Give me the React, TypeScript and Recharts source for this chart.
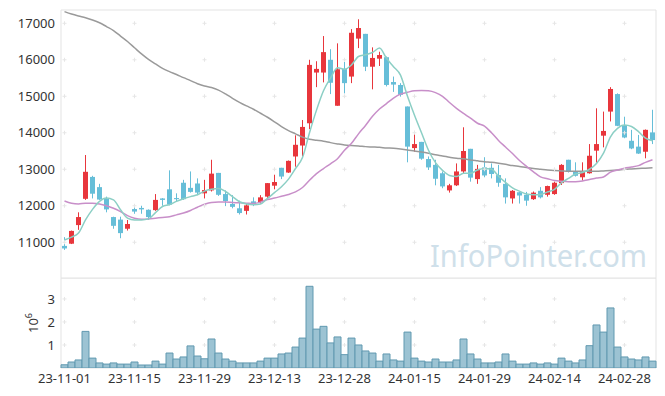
import React from 'react';
import {
  ComposedChart,
  Bar,
  Line,
  XAxis,
  YAxis,
  CartesianGrid,
  ReferenceDot,
  Label,
} from 'recharts';

const dates = [
  '23-11-01', '23-11-02', '23-11-03', '23-11-06', '23-11-07', '23-11-08', '23-11-09', '23-11-10', '23-11-13', '23-11-14',
  '23-11-15', '23-11-16', '23-11-17', '23-11-20', '23-11-21', '23-11-22', '23-11-23', '23-11-24', '23-11-27', '23-11-28',
  '23-11-29', '23-11-30', '23-12-01', '23-12-04', '23-12-05', '23-12-06', '23-12-07', '23-12-08', '23-12-11', '23-12-12',
  '23-12-13', '23-12-14', '23-12-15', '23-12-18', '23-12-19', '23-12-20', '23-12-21', '23-12-22', '23-12-26', '23-12-27',
  '23-12-28', '24-01-02', '24-01-03', '24-01-04', '24-01-05', '24-01-08', '24-01-09', '24-01-10', '24-01-11', '24-01-12',
  '24-01-15', '24-01-16', '24-01-17', '24-01-18', '24-01-19', '24-01-22', '24-01-23', '24-01-24', '24-01-25', '24-01-26',
  '24-01-29', '24-01-30', '24-01-31', '24-02-01', '24-02-02', '24-02-05', '24-02-06', '24-02-07', '24-02-08', '24-02-13',
  '24-02-14', '24-02-15', '24-02-16', '24-02-19', '24-02-20', '24-02-21', '24-02-22', '24-02-23', '24-02-26', '24-02-27',
  '24-02-28', '24-02-29', '24-03-04', '24-03-05', '24-03-06',
];

const opens = [
  10900, 10960, 11470, 12190, 12790, 12510, 12190, 11690, 11620, 11370,
  11910, 11940, 11890, 11880, 12200, 12450, 12210, 12630, 12490, 12610,
  12340, 12420, 12900, 12320, 12050, 11930, 11860, 12120, 12100, 12250,
  12550, 13040, 12910, 13350, 13650, 14260, 15650, 15650, 16000, 14740,
  15750, 15540, 16580, 16710, 15810, 16030, 16070, 15390, 15310, 14720,
  13580, 13750, 13280, 13120, 12890, 12420, 12560, 12940, 13560, 12730,
  13050, 13040, 12840, 12600, 12200, 12370, 12300, 12180, 12410, 12300,
  12320, 12620, 13260, 12940, 12780, 12890, 13510, 13920, 14580, 15060,
  14210, 13780, 13620, 13480, 14010,
];
const highs = [
  11140, 11320, 11820, 13390, 12820, 12600, 12250, 11700, 11700, 11610,
  12040, 12000, 11900, 12320, 12210, 12970, 12340, 12710, 12940, 12750,
  12710, 13260, 12900, 12420, 12290, 12140, 12060, 12230, 12290, 12620,
  12850, 13040, 13240, 13930, 14350, 16000, 15960, 16650, 16290, 16450,
  15940, 16840, 17110, 16710, 16340, 16220, 16090, 15540, 15360, 14720,
  14050, 13750, 13350, 13260, 12940, 12600, 13160, 14150, 13560, 13120,
  13330, 13160, 13120, 12750, 12430, 12380, 12380, 12390, 12510, 12550,
  12660, 13140, 13260, 13190, 13190, 13690, 14670, 14580, 15250, 15080,
  14440, 14080, 13940, 14090, 14630,
];
const lows = [
  10790, 10950, 11340, 12160, 12200, 12160, 11820, 11370, 11110, 11320,
  11780, 11780, 11610, 11860, 12000, 12010, 12120, 12160, 12360, 12290,
  12200, 12390, 12270, 11990, 11930, 11760, 11760, 11990, 12060, 12180,
  12450, 12730, 12900, 13070, 13350, 14100, 15250, 15380, 15060, 14740,
  15080, 15360, 16320, 15690, 15190, 15830, 15270, 15120, 14990, 13190,
  13480, 13260, 12980, 12560, 12480, 12360, 12540, 12890, 12660, 12600,
  12780, 12750, 12520, 12060, 12060, 12060, 12000, 12160, 12200, 12250,
  12300, 12570, 12910, 12800, 12690, 12880, 13180, 13600, 14310, 14180,
  13850, 13550, 13420, 13300, 13690,
];
const closes = [
  10830, 11310, 11690, 12930, 12330, 12170, 11900, 11450, 11250, 11500,
  11840, 11900, 11690, 12160, 12160, 12030, 12180, 12180, 12380, 12360,
  12430, 12880, 12300, 12130, 11970, 11800, 12010, 12030, 12230, 12620,
  12650, 12800, 13230, 13670, 14160, 15860, 15750, 16210, 15370, 15740,
  15360, 16740, 16870, 15810, 16050, 16130, 15310, 15320, 15040, 13620,
  13690, 13290, 13050, 12740, 12530, 12560, 12940, 13500, 12770, 13010,
  12830, 12870, 12630, 12230, 12410, 12280, 12140, 12360, 12230, 12540,
  12630, 13120, 12940, 12820, 12940, 13370, 13690, 14050, 15200, 14190,
  13870, 13570, 13430, 14080, 13800,
];

const ma5 = [
  11060, 11140, 11250, 11610, 11900, 12120, 12210, 12160, 11890, 11660,
  11610, 11610, 11640, 11810, 11980, 12030, 12120, 12190, 12250, 12300,
  12400, 12450, 12470, 12390, 12250, 12110, 12050, 12030, 12050, 12200,
  12360, 12520, 12730, 13020, 13320, 14000, 14620, 15150, 15500, 15780,
  15740, 15860, 16090, 16140, 16200, 16320, 16040, 15810, 15580, 15000,
  14480, 14000, 13520, 13180, 12970, 12830, 12800, 12890, 12890, 12980,
  13020, 13000, 12810, 12640, 12490, 12400, 12320, 12300, 12310, 12380,
  12450, 12630, 12750, 12870, 12910, 13000, 13160, 13440, 13890, 14120,
  14210, 14170, 14030, 13850, 13780,
];
const ma20 = [
  12130, 12070, 12050, 12070, 12070, 12050, 12000, 11930, 11840, 11730,
  11660, 11630, 11640, 11660, 11680, 11700, 11750, 11800, 11870, 11960,
  12040, 12090, 12100, 12100, 12090, 12080, 12070, 12060, 12100, 12170,
  12210, 12260, 12310, 12380, 12500, 12700, 12880, 13020, 13150, 13290,
  13520, 13710, 13970, 14200, 14450, 14650, 14800, 14950, 15060, 15110,
  15150, 15160, 15150, 15100, 15000, 14830, 14670, 14530, 14400, 14260,
  14180, 14000, 13790, 13610, 13430, 13240, 13080, 12930, 12790, 12740,
  12690, 12670, 12660, 12660, 12680, 12720, 12760, 12790, 12920, 12980,
  13030, 13060, 13100, 13190, 13260,
];
const ma120 = [
  17320, 17255, 17200, 17150, 17090, 17015, 16910, 16800, 16650, 16500,
  16330, 16160, 16010, 15885, 15765, 15675, 15595, 15510, 15430, 15345,
  15280, 15240, 15170, 15065, 14945, 14835, 14735, 14645, 14535, 14425,
  14300, 14170, 14060, 13970, 13880, 13820, 13795, 13770, 13730, 13695,
  13665, 13650, 13640, 13620, 13610, 13600, 13585, 13575, 13555, 13530,
  13500, 13475, 13440, 13395, 13365, 13330, 13300, 13285, 13255, 13230,
  13205, 13190, 13165, 13135, 13100, 13075, 13045, 13020, 13000, 12980,
  12965, 12955, 12945, 12945, 12945, 12945, 12945, 12955, 12965, 12980,
  13000, 13010, 13020, 13030, 13040,
];

const volumes = [
  140000, 260000, 350000, 1590000, 430000, 220000, 170000, 220000, 170000, 170000,
  260000, 130000, 130000, 300000, 170000, 650000, 390000, 480000, 960000, 520000,
  400000, 1260000, 650000, 390000, 300000, 220000, 220000, 220000, 300000, 430000,
  430000, 610000, 650000, 910000, 1300000, 3550000, 1690000, 1810000, 1090000, 1350000,
  580000, 1300000, 1000000, 740000, 650000, 300000, 610000, 350000, 300000, 1560000,
  430000, 300000, 260000, 390000, 260000, 260000, 350000, 1260000, 610000, 390000,
  220000, 220000, 260000, 610000, 300000, 170000, 170000, 220000, 170000, 220000,
  170000, 430000, 300000, 220000, 350000, 970000, 1870000, 1560000, 2610000, 910000,
  480000, 390000, 350000, 480000, 300000,
];

const tickDates = ['23-11-01', '23-11-15', '23-11-29', '23-12-13', '23-12-28', '24-01-15', '24-01-29', '24-02-14', '24-02-28'];
const priceTicks = [11000, 12000, 13000, 14000, 15000, 16000, 17000];
const volumeTicks = [1000000, 2000000, 3000000];

const UP = '#e8363c';
const DOWN = '#66bed8';
const GRID = '#e3e3e3';
const CROSS = '#e6e6e6';
const FONT = '"Noto Sans", "Open Sans", sans-serif';

const rows = dates.map((date, i) => ({
  date,
  open: opens[i],
  high: highs[i],
  low: lows[i],
  close: closes[i],
  range: [lows[i], highs[i]],
  ma5: ma5[i],
  ma20: ma20[i],
  ma120: ma120[i],
  volume: volumes[i],
}));

function Candle(props: any) {
  const { x, y, width, height, payload } = props;
  if (!payload) return null;
  const { open, close, high, low } = payload;
  const color = close >= open ? UP : DOWN;
  const top = Math.min(y, y + height);
  const h = Math.abs(height);
  const span = high - low || 1;
  const py = (v: number) => top + ((high - v) / span) * h;
  const bodyTop = py(Math.max(open, close));
  const bodyBot = py(Math.min(open, close));
  const cx = x + width / 2;
  return (
    <g>
      <line x1={cx} x2={cx} y1={top} y2={top + h} stroke={color} strokeWidth={1} />
      <rect x={x} y={bodyTop} width={width} height={Math.max(bodyBot - bodyTop, 1)} fill={color} />
    </g>
  );
}

function Cross(props: any) {
  const { cx, cy } = props;
  return (
    <g stroke={CROSS} strokeWidth={1}>
      <line x1={cx - 2} x2={cx + 2} y1={cy} y2={cy} />
      <line x1={cx} x2={cx} y1={cy - 2} y2={cy + 2} />
    </g>
  );
}

// only the outer frame of the plot area
const frameH = (p: any) => (p.offset ? [p.offset.top, p.offset.top + p.offset.height] : []);
const frameV = (p: any) => (p.offset ? [p.offset.left, p.offset.left + p.offset.width] : []);

const tickStyle = { fontSize: 13, fill: '#333', fontFamily: FONT };

export default function App() {
  return (
    <div style={{ position: 'absolute', left: 0, top: 0, width: 665, height: 396, background: '#fff' }}>
      <div style={{ position: 'absolute', left: 0, top: 0 }}>
        <ComposedChart width={665} height={279} data={rows} margin={{ top: 10, right: 9, bottom: 1, left: 0 }}>
          <CartesianGrid
            stroke={GRID}
            horizontalCoordinatesGenerator={frameH}
            verticalCoordinatesGenerator={frameV}
          />
          <XAxis dataKey="date" hide />
          <YAxis
            width={61}
            domain={[10020, 17364]}
            ticks={priceTicks}
            allowDataOverflow
            axisLine={false}
            tickLine={false}
            tickSize={4}
            tick={tickStyle}
          />
          {tickDates.map((d) =>
            priceTicks.map((p) => (
              <ReferenceDot key={d + p} x={d} y={p} r={0} shape={<Cross />} ifOverflow="visible" />
            ))
          )}
          <Bar dataKey="range" barSize={5} shape={<Candle />} isAnimationActive={false} />
          <Line type="monotone" dataKey="ma120" stroke="#9a9a9a" strokeWidth={1.5} dot={false} isAnimationActive={false} />
          <Line type="monotone" dataKey="ma20" stroke="#c88fc9" strokeWidth={1.5} dot={false} isAnimationActive={false} />
          <Line type="monotone" dataKey="ma5" stroke="#8ccfc5" strokeWidth={1.5} dot={false} isAnimationActive={false} />
        </ComposedChart>
      </div>
      <svg style={{ position: 'absolute', left: 0, top: 0, pointerEvents: 'none' }} width={665} height={280}>
        <text
          x={430}
          y={267}
          fontSize={31}
          fontFamily={FONT}
          fill="#cfe0ea"
          textLength={217}
          lengthAdjust="spacingAndGlyphs"
        >
          InfoPointer.com
        </text>
      </svg>
      <div style={{ position: 'absolute', left: 0, top: 278 }}>
        <ComposedChart width={665} height={118} data={rows} barCategoryGap={0} margin={{ top: 0, right: 9, bottom: 0, left: 0 }}>
          <CartesianGrid
            stroke={GRID}
            horizontalCoordinatesGenerator={frameH}
            verticalCoordinatesGenerator={frameV}
          />
          <XAxis
            dataKey="date"
            ticks={tickDates}
            interval={0}
            height={28}
            axisLine={false}
            tickLine={false}
            tickSize={4}
            tick={tickStyle}
          />
          <YAxis
            width={61}
            domain={[0, 3910000]}
            ticks={volumeTicks}
            allowDataOverflow
            axisLine={false}
            tickLine={false}
            tickSize={4}
            tick={tickStyle}
            tickFormatter={(v: number) => String(v / 1000000)}
          >
            <Label
              content={(p: any) => {
                const vb = p.viewBox || { x: 0, y: 0, height: 90 };
                const cx = vb.x + 38;
                const cy = vb.y + vb.height / 2;
                return (
                  <text
                    x={cx}
                    y={cy}
                    transform={`rotate(-90, ${cx}, ${cy})`}
                    textAnchor="middle"
                    fontSize={13}
                    fontFamily={FONT}
                    fill="#333"
                  >
                    10<tspan dy={-6} fontSize={9}>6</tspan>
                  </text>
                );
              }}
            />
          </YAxis>
          {tickDates.map((d) =>
            volumeTicks.map((v) => (
              <ReferenceDot key={d + v} x={d} y={v} r={0} shape={<Cross />} ifOverflow="visible" />
            ))
          )}
          <Bar dataKey="volume" fill="#9cc3d3" stroke="#6199b0" strokeWidth={1} isAnimationActive={false} />
        </ComposedChart>
      </div>
    </div>
  );
}
